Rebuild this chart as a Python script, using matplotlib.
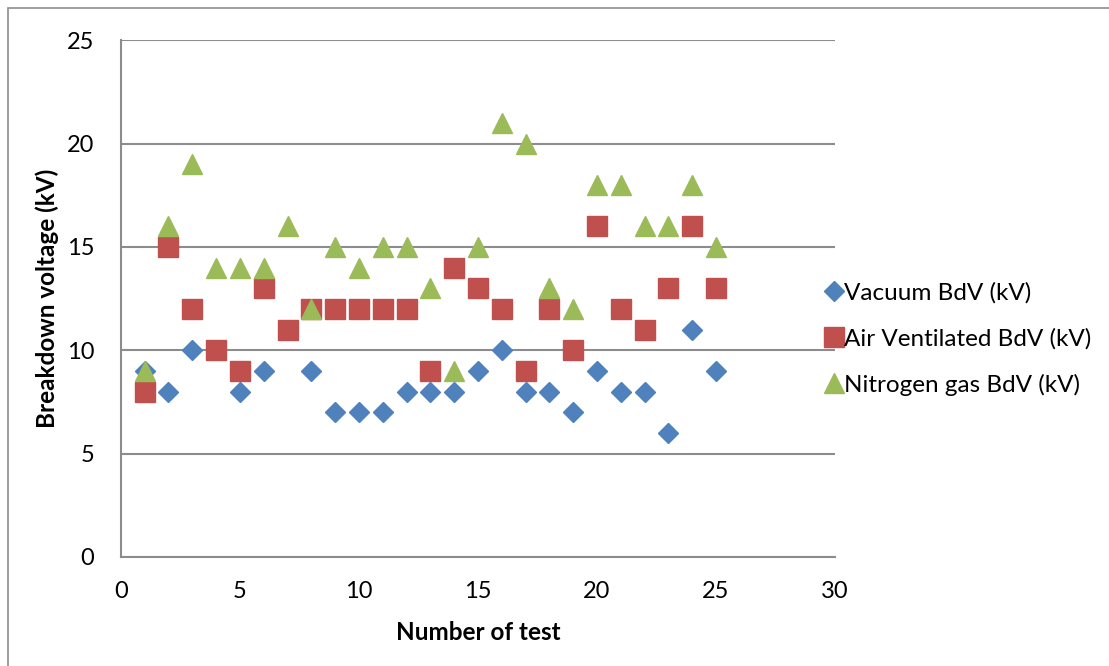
import numpy as np
import matplotlib.pyplot as plt
from matplotlib.patches import Rectangle

plt.rcParams['font.family'] = ['Lato', 'DejaVu Sans']

test_no = np.arange(1, 26)
vacuum = [9, 8, 10, 10, 8, 9, 11, 9, 7, 7, 7, 8, 8, 8, 9, 10, 8, 8, 7, 9, 8, 8, 6, 11, 9]
air = [8, 15, 12, 10, 9, 13, 11, 12, 12, 12, 12, 12, 9, 14, 13, 12, 9, 12, 10, 16, 12, 11, 13, 16, 13]
nitrogen = [9, 16, 19, 14, 14, 14, 16, 12, 15, 14, 15, 15, 13, 9, 15, 21, 20, 13, 12, 18, 18, 16, 16, 18, 15]

grey = '#8c8c8c'

fig = plt.figure(figsize=(11.09, 6.66), dpi=100)
ax = fig.add_axes([0.109, 0.1637, 0.644, 0.776])

ax.plot(test_no, vacuum, ls='none', marker='D', ms=10.5, color='#4F81BD',
        mec='#4F81BD', label='Vacuum BdV (kV)')
ax.plot(test_no, air, ls='none', marker='s', ms=14, color='#C0504D',
        mec='#C0504D', label='Air Ventilated BdV (kV)')
ax.plot(test_no, nitrogen, ls='none', marker='^', ms=14, color='#9BBB59',
        mec='#9BBB59', label='Nitrogen gas BdV (kV)')

ax.set_xlim(0, 30)
ax.set_ylim(0, 25)
ax.set_xticks(range(0, 31, 5))
ax.set_yticks(range(0, 26, 5))
ax.yaxis.grid(True, color=grey, lw=1.5)
ax.set_axisbelow(True)
for side in ('top', 'right'):
    ax.spines[side].set_visible(False)
for side in ('left', 'bottom'):
    ax.spines[side].set_color(grey)
    ax.spines[side].set_linewidth(1.5)
ax.tick_params(length=0, labelsize=17, pad=17)
ax.tick_params(axis='y', pad=19)

ax.set_xlabel('Number of test', fontsize=17.5, fontweight='bold', labelpad=14)
ax.set_ylabel('Breakdown voltage (kV)', fontsize=17.5, fontweight='bold', labelpad=6)

fig.legend(loc='center left', bbox_to_anchor=(0.719, 0.491), frameon=False,
           fontsize=17.5, handletextpad=-0.2, labelspacing=1.0, handlelength=1.2)

fig.patches.append(Rectangle((0.0072, -0.1), 1.2, 1.088, transform=fig.transFigure,
                             fill=False, edgecolor=grey, lw=1.2))

fig.savefig('out.png', dpi=100)
